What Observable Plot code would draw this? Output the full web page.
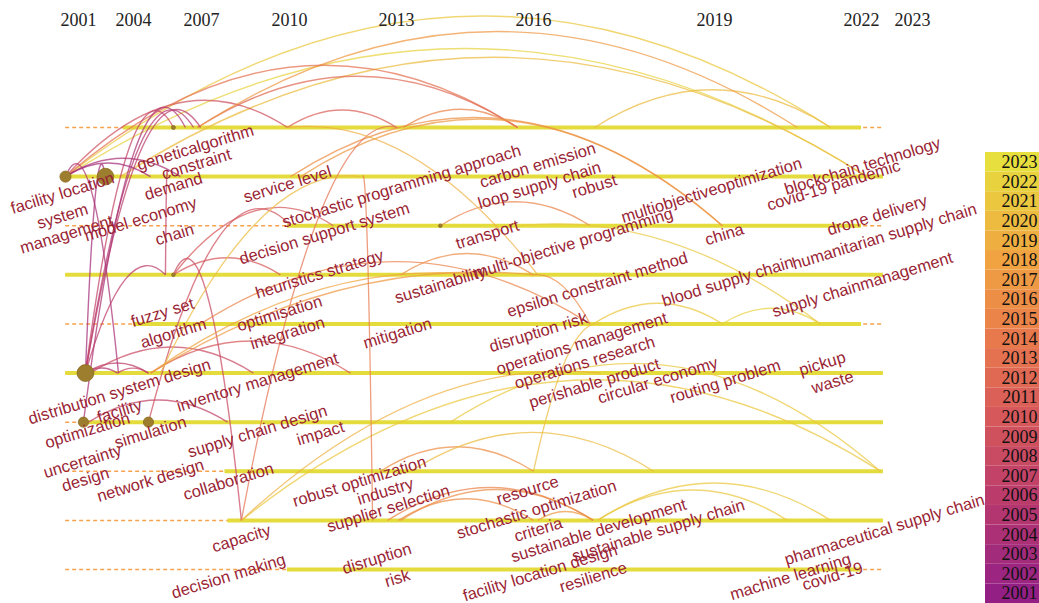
<!DOCTYPE html>
<html>
<head>
<meta charset="utf-8">
<script src="https://cdn.jsdelivr.net/npm/d3@7"></script>
<script src="https://cdn.jsdelivr.net/npm/@observablehq/plot@0.6"></script>
<style>
  html, body { margin: 0; padding: 0; background: #fff; overflow: hidden; }
  #wrap { position: relative; width: 1039px; height: 603px; }
  #chart { position: absolute; left: 0; top: 0; }
  #legend { position: absolute; left: 985px; top: 152px; }
  #chart svg, #legend svg { display: block; }
</style>
</head>
<body>
<div id="wrap"><div id="chart"></div><div id="legend"></div></div>
<script>
// ---------------- data ----------------
const yearTicks = [2001, 2004, 2007, 2010, 2013, 2016, 2019, 2022, 2023];
const legendYears = [2001,2002,2003,2004,2005,2006,2007,2008,2009,2010,2011,2012,2013,2014,2015,2016,2017,2018,2019,2020,2021,2022,2023];

// timeline rows (clusters): first and last year of the solid part
const rowIds    = [1, 2, 3, 4, 5, 6, 7, 8, 9, 10];
const rowStart  = [2003.45, 2000.3, 2009.93, 2000.3, 2004.0, 2000.3, 2001.1, 2007.8, 2007.9, 2009.93];
const rowEnd    = [2022.0, 2022.43, 2022.0, 2022.43, 2022.0, 2022.43, 2022.43, 2022.43, 2022.43, 2022.0];
const rowSpan   = [2000.3, 2022.43];

// keyword nodes (year of first appearance, row, frequency)
const nodes = [
  {term: "facility location", year: 2000.29, row: 2, freq: 38},
  {term: "system", year: 2002.47, row: 2, freq: 85},
  {term: "geneticalgorithm", year: 2005.76, row: 1, freq: 5},
  {term: "chain", year: 2005.76, row: 4, freq: 4},
  {term: "distribution system design", year: 2001.38, row: 6, freq: 88},
  {term: "optimization", year: 2001.27, row: 7, freq: 32},
  {term: "simulation", year: 2004.66, row: 7, freq: 32},
  {term: "transport", year: 2013.96, row: 3, freq: 4}
];

// keyword labels (position read in year / row units)
const labels = [
  {term: "geneticalgorithm", year: 2006.73, row: 1.41},
  {term: "constraint", year: 2006.78, row: 1.75},
  {term: "facility location", year: 2000.13, row: 2.34},
  {term: "system", year: 2000.13, row: 2.81},
  {term: "management", year: 2000.35, row: 3.18},
  {term: "model economy", year: 2004.31, row: 2.87},
  {term: "demand", year: 2005.76, row: 2.20},
  {term: "chain", year: 2005.81, row: 3.18},
  {term: "service level", year: 2009.93, row: 2.16},
  {term: "stochastic programming approach", year: 2013.11, row: 2.20},
  {term: "carbon emission", year: 2016.07, row: 1.77},
  {term: "loop supply chain", year: 2016.10, row: 2.18},
  {term: "robust", year: 2017.01, row: 2.20},
  {term: "multiobjectiveoptimization", year: 2018.95, row: 2.28},
  {term: "blockchain technology", year: 2022.02, row: 1.79},
  {term: "covid-19 pandemic", year: 2021.43, row: 2.18},
  {term: "decision support system", year: 2010.98, row: 3.16},
  {term: "transport", year: 2014.99, row: 3.18},
  {term: "multi-objective programming", year: 2016.66, row: 3.36},
  {term: "china", year: 2019.20, row: 3.18},
  {term: "drone delivery", year: 2022.31, row: 2.79},
  {term: "humanitarian supply chain", year: 2022.45, row: 3.22},
  {term: "heuristics strategy", year: 2010.84, row: 3.99},
  {term: "sustainability", year: 2013.96, row: 4.20},
  {term: "epsilon constraint method", year: 2017.06, row: 4.20},
  {term: "blood supply chain", year: 2019.27, row: 4.14},
  {term: "supply chainmanagement", year: 2022.02, row: 4.20},
  {term: "fuzzy set", year: 2005.28, row: 4.77},
  {term: "optimisation", year: 2009.66, row: 4.79},
  {term: "algorithm", year: 2005.76, row: 5.19},
  {term: "integration", year: 2009.93, row: 5.19},
  {term: "mitigation", year: 2013.02, row: 5.19},
  {term: "disruption risk", year: 2016.08, row: 5.17},
  {term: "operations management", year: 2016.80, row: 5.40},
  {term: "operations research", year: 2016.85, row: 5.79},
  {term: "distribution system design", year: 2003.24, row: 6.38},
  {term: "inventory management", year: 2008.91, row: 6.19},
  {term: "perishable product", year: 2017.01, row: 6.21},
  {term: "circular economy", year: 2018.06, row: 6.15},
  {term: "routing problem", year: 2019.22, row: 6.17},
  {term: "pickup", year: 2021.20, row: 5.81},
  {term: "waste", year: 2021.41, row: 6.19},
  {term: "facility", year: 2003.24, row: 6.78},
  {term: "optimization", year: 2001.49, row: 7.17},
  {term: "simulation", year: 2004.75, row: 7.21},
  {term: "uncertainty", year: 2001.22, row: 7.80},
  {term: "design", year: 2001.38, row: 8.17},
  {term: "network design", year: 2004.75, row: 8.19},
  {term: "supply chain design", year: 2008.91, row: 7.19},
  {term: "impact", year: 2010.87, row: 7.23},
  {term: "collaboration", year: 2007.92, row: 8.21},
  {term: "robust optimization", year: 2011.96, row: 8.21},
  {term: "industry", year: 2012.69, row: 8.41},
  {term: "supplier selection", year: 2012.77, row: 8.76},
  {term: "resource", year: 2015.87, row: 8.39},
  {term: "capacity", year: 2008.36, row: 9.37},
  {term: "stochastic optimization", year: 2016.05, row: 8.78},
  {term: "criteria", year: 2016.08, row: 9.19},
  {term: "sustainable development", year: 2017.08, row: 9.21},
  {term: "sustainable supply chain", year: 2018.07, row: 9.21},
  {term: "pharmaceutical supply chain", year: 2022.45, row: 9.19},
  {term: "decision making", year: 2007.92, row: 10.14},
  {term: "disruption", year: 2012.45, row: 9.78},
  {term: "risk", year: 2013.02, row: 10.18},
  {term: "facility location design", year: 2016.11, row: 10.07},
  {term: "resilience", year: 2016.99, row: 10.16},
  {term: "machine learning", year: 2020.55, row: 10.15},
  {term: "covid-19", year: 2021.41, row: 10.14}
];

// co-occurrence links drawn as arches: [from year, from row, to year, to row, link year]
const archLinks = [
  [2000.29, 2, 2021.37, 1, 2021], [2000.29, 2, 2022.10, 2, 2022], [2003.29, 2, 2022.10, 2, 2020],
  [2000.29, 2, 2009.93, 1, 2009], [2006.82, 1, 2015.65, 1, 2012], [2009.93, 1, 2013.00, 1, 2011],
  [2013.15, 1, 2015.65, 1, 2015], [2017.01, 1, 2021.37, 1, 2020], [2006.82, 1, 2020.69, 1, 2017],
  [2000.29, 2, 2015.65, 1, 2013],
  [2001.38, 6, 2006.65, 1, 2005], [2001.38, 6, 2006.96, 1, 2006], [2001.27, 7, 2006.29, 1, 2004],
  [2001.38, 6, 2005.76, 1, 2007], [2001.38, 6, 2002.47, 2, 2003], [2000.29, 2, 2003.18, 6, 2004],
  [2000.29, 2, 2006.07, 2, 2004], [2000.29, 2, 2004.75, 2, 2003], [2001.38, 6, 2005.41, 4, 2006],
  [2005.41, 4, 2005.50, 2, 2007], [2001.38, 6, 2003.13, 6, 2005], [2001.38, 6, 2004.66, 6, 2006],
  [2003.13, 6, 2004.66, 6, 2007], [2001.65, 6, 2008.77, 6, 2008], [2004.75, 6, 2011.71, 6, 2010],
  [2001.55, 7, 2007.89, 7, 2007], [2005.76, 4, 2008.36, 9, 2008], [2005.76, 4, 2009.69, 4, 2010],
  [2004.66, 7, 2010.03, 3, 2009], [2005.76, 4, 2011.23, 3, 2010],
  [2013.96, 3, 2016.94, 3, 2015], [2010.03, 2, 2019.16, 3, 2016], [2010.31, 2, 2019.16, 3, 2017],
  [2008.36, 9, 2022.37, 8, 2021], [2012.55, 8, 2016.00, 8, 2016], [2013.31, 8, 2017.99, 8, 2020],
  [2013.04, 9, 2016.00, 9, 2016], [2012.75, 9, 2016.99, 9, 2015], [2013.09, 9, 2016.99, 9, 2016],
  [2016.07, 9, 2016.99, 9, 2017], [2017.06, 9, 2020.49, 9, 2021], [2017.06, 9, 2021.37, 9, 2021],
  [2014.18, 7, 2022.37, 8, 2021], [2016.99, 5, 2019.16, 5, 2021], [2019.16, 5, 2021.16, 5, 2022],
  [2006.96, 5, 2016.94, 5, 2015], [2013.09, 4, 2016.00, 4, 2016]
];
// links that are drawn almost straight
const straightLinks = [
  [2012.05, 2, 2012.33, 9, 2014], [2008.36, 9, 2013.02, 1, 2013], [2008.36, 9, 2017.11, 6, 2019],
  [2016.00, 8, 2017.11, 5, 2020], [2015.72, 3, 2021.16, 5, 2021], [2004.75, 6, 2016.00, 4, 2017],
  [2016.00, 4, 2016.94, 5, 2016], [2004.75, 6, 2014.84, 4, 2018], [2005.19, 6, 2011.99, 2, 2020],
  [2009.93, 1, 2016.07, 4, 2019]
];

// ---------------- chart ----------------
const toLink = ([from, fromRow, to, toRow, year]) => ({from, fromRow, to, toRow, year});
const arches = archLinks.map(toLink);
const straights = straightLinks.map(toLink);
const rowSolid = rowIds.map((row, i) => ({row, start: rowStart[i], end: rowEnd[i]}));
const rowDashed = rowIds.map(row => ({row, start: rowSpan[0], end: rowSpan[1]}));

// uneven time slices: piecewise-linear position of each year tick
const slicePos = d3.scaleLinear().domain(yearTicks).range([78, 133, 201, 289, 396, 533, 714, 861, 912]);

function archCurve(k) {
  return (context) => {
    let pts = [];
    return {
      areaStart() {}, areaEnd() {},
      lineStart() { pts = []; },
      point(x, y) { pts.push([+x, +y]); },
      lineEnd() {
        if (pts.length < 2) return;
        const [[x1, y1], [x2, y2]] = pts;
        const len = Math.hypot(x2 - x1, y2 - y1);
        context.moveTo(x1, y1);
        context.quadraticCurveTo((x1 + x2) / 2, Math.min(y1, y2) - k * len, x2, y2);
      }
    };
  };
}

const colorScale = {
  type: "linear",
  domain: [2001, 2006, 2010, 2014, 2018, 2023],
  range: ["#931f85", "#bb3c6b", "#d6585a", "#e8794c", "#f0a340", "#e6df3e"]
};

const chart = Plot.plot({
  width: 1039,
  height: 603,
  margin: 0,
  style: {background: "transparent"},
  x: {type: "linear", transform: (v) => slicePos(v), domain: [0, 1039], range: [0, 1039], axis: null},
  y: {domain: [1, 10], range: [127, 569], axis: null},
  r: {type: "sqrt", domain: [0, 100], range: [0, 9]},
  color: colorScale,
  marks: [
    Plot.ruleY(rowDashed, {y: "row", x1: "start", x2: "end", stroke: "#f7a24e", strokeWidth: 1.5, strokeDasharray: "4,3"}),
    Plot.ruleY(rowSolid, {y: "row", x1: "start", x2: "end", stroke: "#e4dc3c", strokeWidth: 4}),
    Plot.link(arches, {x1: "from", y1: "fromRow", x2: "to", y2: "toRow", stroke: "year", strokeWidth: 1.4, strokeOpacity: 0.72, curve: archCurve(0.32)}),
    Plot.link(straights, {x1: "from", y1: "fromRow", x2: "to", y2: "toRow", stroke: "year", strokeWidth: 1.3, strokeOpacity: 0.72, curve: archCurve(0.05)}),
    Plot.dot(nodes, {x: "year", y: "row", r: "freq", fill: "#9d7e2e", stroke: "#8c6b22", strokeWidth: 0.8}),
    Plot.text(labels, {x: "year", y: "row", text: "term", rotate: -17, fill: "#9a1f35", fontSize: 16.5, fontFamily: "Liberation Sans, Arial, sans-serif"}),
    Plot.text(yearTicks, {x: d => d, frameAnchor: "top", lineAnchor: "middle", dy: 20, text: d => String(d), fill: "#222", fontSize: 18, fontFamily: "Liberation Serif, Times New Roman, serif"})
  ]
});
document.getElementById("chart").appendChild(chart);

const legend = Plot.plot({
  width: 54,
  height: 451,
  margin: 0,
  x: {axis: null},
  y: {type: "band", domain: legendYears.slice().reverse(), padding: 0, round: false, axis: null},
  color: colorScale,
  marks: [
    Plot.cell(legendYears, {y: d => d, fill: d => d}),
    Plot.text(legendYears, {y: d => d, text: d => String(d), frameAnchor: "right", dx: -2, fill: "#111", fontSize: 18, fontFamily: "Liberation Serif, Times New Roman, serif"})
  ]
});
document.getElementById("legend").appendChild(legend);
</script>
</body>
</html>
